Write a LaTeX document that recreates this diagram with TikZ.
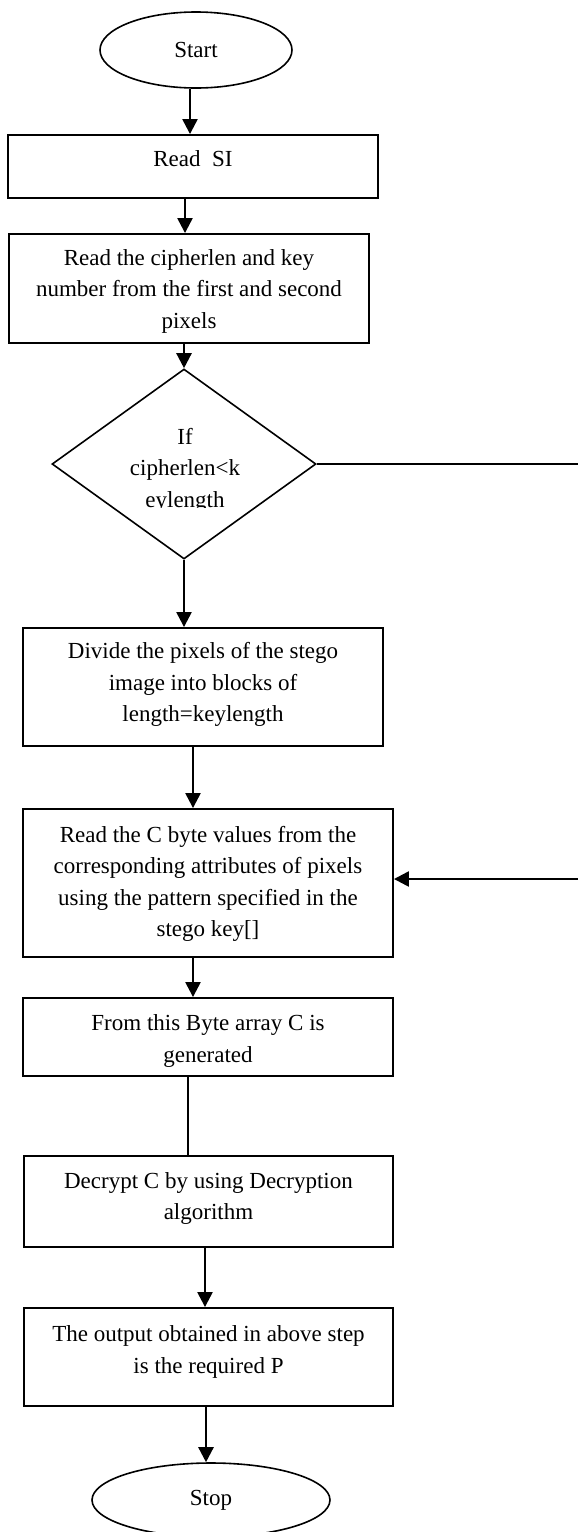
\documentclass[tikz,border=0pt]{standalone}
\usepackage{fontspec}
\setmainfont{Liberation Serif}
\usetikzlibrary{shapes.geometric,arrows.meta}

% text block of centred lines, moved up by #1 without changing its size
\newcommand{\boxtext}[2]{\raisebox{#1}[\height][\depth]{\begin{tabular}{@{}c@{}}#2\end{tabular}}}

\begin{document}
\begin{tikzpicture}[x=1pt,y=-1pt,
  every node/.style={font=\fontsize{23}{31.5}\selectfont},
  stepbox/.style={draw,line width=1.9pt,rectangle,inner sep=0pt},
  term/.style={draw,line width=1.6pt,ellipse,inner sep=0pt},
  decision/.style={draw,line width=1.6pt,diamond,inner sep=0pt},
  arr/.style={line width=2.4pt,-{Triangle[length=15pt,width=15pt]}},
  plainline/.style={line width=1.8pt}]

\useasboundingbox[fill=white] (0,0) rectangle (578,1532);

% terminals, steps and the decision
\node[term,minimum width=192pt,minimum height=76pt] (start) at (196,50) {Start};
\node[stepbox,minimum width=370pt,minimum height=63pt] (readsi) at (193,166.5)
  {\boxtext{6pt}{Read\ \ SI}};
\node[stepbox,minimum width=360pt,minimum height=109pt] (readlen) at (189,288.5)
  {\boxtext{-2pt}{Read the cipherlen and key\\number from the first and second\\pixels}};
\node[decision,minimum width=264pt,minimum height=190pt] (cond) at (184,464) {};
\node[stepbox,minimum width=360pt,minimum height=118pt] (divide) at (203,687)
  {\boxtext{3pt}{Divide the pixels of the stego\\image into blocks of\\length=keylength}};
\node[stepbox,minimum width=370pt,minimum height=148pt] (readc) at (208,883)
  {\boxtext{0pt}{Read the C byte values from the\\corresponding attributes of pixels\\using the pattern specified in the\\stego key[]}};
\node[stepbox,minimum width=370pt,minimum height=78pt] (bytearr) at (208,1037)
  {\boxtext{-3pt}{From this Byte array C is\\generated}};
\node[stepbox,minimum width=369pt,minimum height=91pt] (decrypt) at (208.5,1201.5)
  {\boxtext{4pt}{Decrypt C by using Decryption\\algorithm}};
\node[stepbox,minimum width=369pt,minimum height=98pt] (output) at (208.5,1357)
  {\boxtext{6pt}{The output obtained in above step\\is the required P}};
\node[term,minimum width=238pt,minimum height=74pt] (stop) at (211,1500) {Stop};

% condition text, cut off at the bottom of its text area
\begin{scope}
  \clip (90,410) rectangle (280,507);
  \node[align=center] (condtext) at (185,470) {If\\cipherlen<k\\eylength};
\end{scope}

% x positions of the vertical connectors
\coordinate (xa) at (190,0);
\coordinate (xb) at (185,0);
\coordinate (xc) at (193,0);
\coordinate (xd) at (188,0);
\coordinate (xe) at (205,0);
\coordinate (xf) at (206,0);

% main flow
\draw[arr] (start.south -| xa) -- (readsi.north -| xa);
\draw[arr] (readsi.south -| xb) -- (readlen.north -| xb);
\draw[arr] (readlen.south -| cond.north) -- (cond.north);
\draw[arr] (cond.south) -- (cond.south |- divide.north);
\draw[arr] (divide.south -| xc) -- (readc.north -| xc);
\draw[arr] (readc.south -| xc) -- (bytearr.north -| xc);
\draw[plainline] (bytearr.south -| xd) -- (decrypt.north -| xd);
\draw[arr] (decrypt.south -| xe) -- (output.north -| xe);
\draw[arr] (output.south -| xf) -- (stop.north -| xf);

% loop from the decision back into the reading step
\coordinate (loopout) at (578,464);
\coordinate (loopin) at (578,879);
\draw[plainline] (cond.east) -- (cond.east -| loopout);
\draw[arr] (loopin) -- (loopin -| readc.east);
\end{tikzpicture}
\end{document}
